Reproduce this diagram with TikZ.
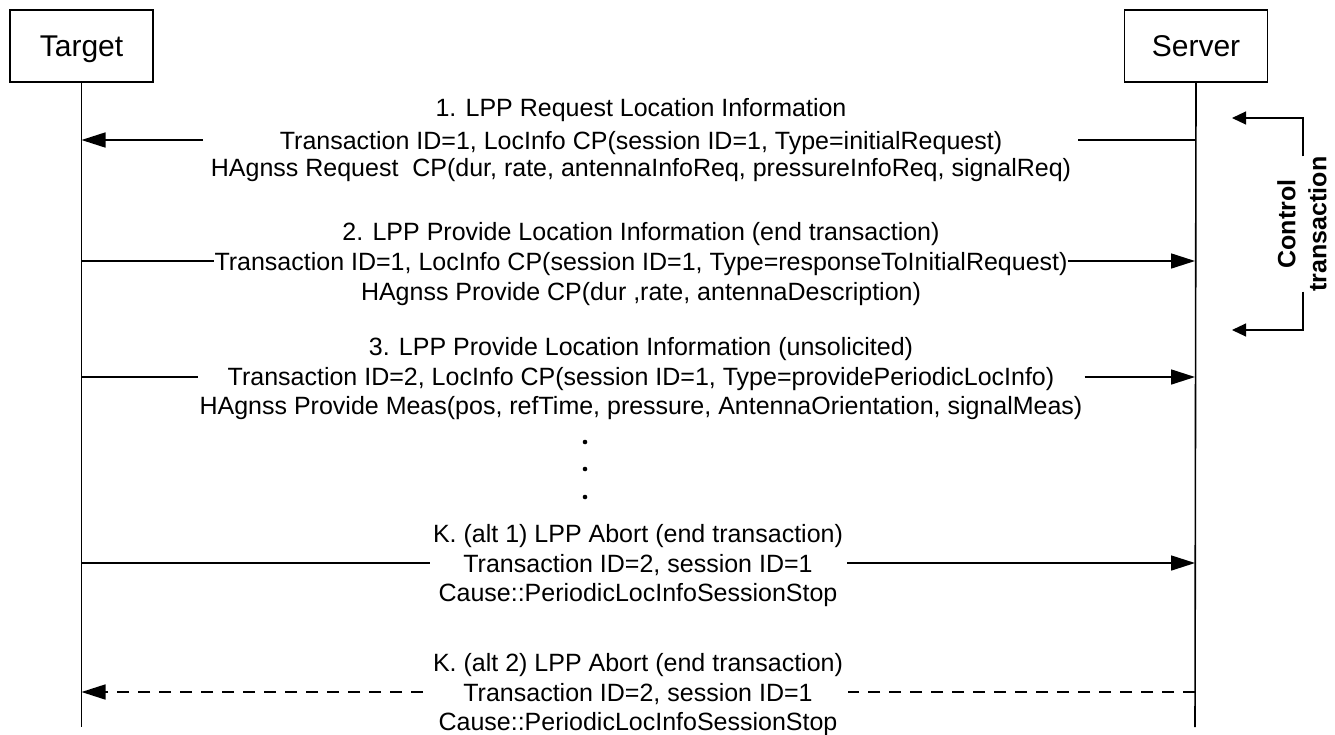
\documentclass[tikz,border=0pt]{standalone}
\usepackage{fontspec}
\setmainfont{Liberation Sans}
\usetikzlibrary{arrows.meta,calc}
\begin{document}
\begin{tikzpicture}[x=1pt,y=-1pt,
  lw/.style={line width=1.6pt},
  entity/.style={draw,lw,minimum width=143pt,minimum height=72pt,inner sep=0},
  enttxt/.style={font=\fontsize{30}{34}\selectfont,anchor=base,inner sep=0},
  msgtxt/.style={font=\fontsize{25}{30}\selectfont,anchor=base,inner sep=0},
  ctltxt/.style={font=\bfseries\fontsize{25}{31}\selectfont,align=center,rotate=90,inner sep=0},
  msg/.style={lw,-{Triangle[length=24pt,width=15pt]}},
  seg/.style={lw},
  dsh/.style={lw,dash pattern=on 12pt off 9pt},
  ctlarr/.style={line width=1.2pt,-{Triangle[length=14pt,width=13pt]}}
]
\useasboundingbox (0,0) rectangle (1335,734);
% entities
\node[entity] (tbox) at (81.5,46) {};
\node[enttxt] (tname) at (81.5,56) {Target};
\node[entity] (sbox) at (1196,46) {};
\node[enttxt] (sname) at (1196,56) {Server};
\coordinate (tend) at (81.5,727);
\coordinate (send) at (1195,727);
\draw[lw] (tbox.south) -- (tend);
\draw[lw] (sbox.south) -- (send);

% message 1
\node[msgtxt] (m1a) at (641,116) {1. LPP Request Location Information};
\node[msgtxt] (m1b) at (641,149) {Transaction ID=1, LocInfo CP(session ID=1, Type=initialRequest)};
\node[msgtxt] (m1c) at (641,176) {HAgnss Request\ \ CP(dur, rate, antennaInfoReq, pressureInfoReq, signalReq)};
\coordinate (s1) at (1195,140);
\coordinate (g1r) at (1078,140);
\coordinate (g1l) at (203,140);
\coordinate (t1) at (81.5,140);
\draw[seg] (s1) -- (g1r);
\draw[msg] (g1l) -- (t1);

% message 2
\node[msgtxt] (m2a) at (641,240) {2. LPP Provide Location Information (end transaction)};
\node[msgtxt] (m2b) at (641,270) {Transaction ID=1, LocInfo CP(session ID=1, Type=responseToInitialRequest)};
\node[msgtxt] (m2c) at (641,300) {HAgnss Provide CP(dur ,rate, antennaDescription)};
\coordinate (t2) at (81.5,261);
\coordinate (s2) at (1195,261);
\draw[seg] (t2) -- (m2b.west |- t2);
\draw[msg] (m2b.east |- s2) -- (s2);

% message 3
\node[msgtxt] (m3a) at (641,355) {3. LPP Provide Location Information (unsolicited)};
\node[msgtxt] (m3b) at (641,385) {Transaction ID=2, LocInfo CP(session ID=1, Type=providePeriodicLocInfo)};
\node[msgtxt] (m3c) at (641,414) {HAgnss Provide Meas(pos, refTime, pressure, AntennaOrientation, signalMeas)};
\coordinate (t3) at (81.5,377);
\coordinate (s3) at (1195,377);
\coordinate (g3l) at ($(m3b.west |- t3)+(-30,0)$);
\coordinate (g3r) at ($(m3b.east |- s3)+(30,0)$);
\draw[seg] (t3) -- (g3l);
\draw[msg] (g3r) -- (s3);

% dots
\fill (585,442) circle (2.3pt);
\fill (585,469) circle (2.3pt);
\fill (585,497) circle (2.3pt);

% K alt 1
\node[msgtxt] (k1a) at (638,542) {K. (alt 1) LPP Abort (end transaction)};
\node[msgtxt] (k1b) at (638,572) {Transaction ID=2, session ID=1};
\node[msgtxt] (k1c) at (638,601) {Cause::PeriodicLocInfoSessionStop};
\coordinate (t4) at (81.5,563);
\coordinate (s4) at (1195,563);
\coordinate (g4l) at (430,563);
\coordinate (g4r) at (847,563);
\draw[seg] (t4) -- (g4l);
\draw[msg] (g4r) -- (s4);

% K alt 2
\node[msgtxt] (k2a) at (638,671) {K. (alt 2) LPP Abort (end transaction)};
\node[msgtxt] (k2b) at (638,701) {Transaction ID=2, session ID=1};
\node[msgtxt] (k2c) at (638,730) {Cause::PeriodicLocInfoSessionStop};
\coordinate (t5) at (81.5,692);
\coordinate (s5) at (1195,692);
\coordinate (g5l) at (423,692);
\coordinate (g5r) at (848,692);
\draw[dsh] (s5) -- (g5r);
\draw[dsh,-{Triangle[length=24pt,width=15pt]}] (g5l) -- (t5);

% control transaction bracket
\node[ctltxt] (ctl) at (1302,224) {Control\\transaction};
\coordinate (ct) at (1303,118);
\coordinate (ctt) at (1232,118);
\coordinate (cb) at (1303,330);
\coordinate (cbt) at (1232,330);
\draw[ctlarr] (ctl.east -| ct) -- (ct) -- (ctt);
\draw[ctlarr] (ctl.west -| cb) -- (cb) -- (cbt);
\end{tikzpicture}
\end{document}
